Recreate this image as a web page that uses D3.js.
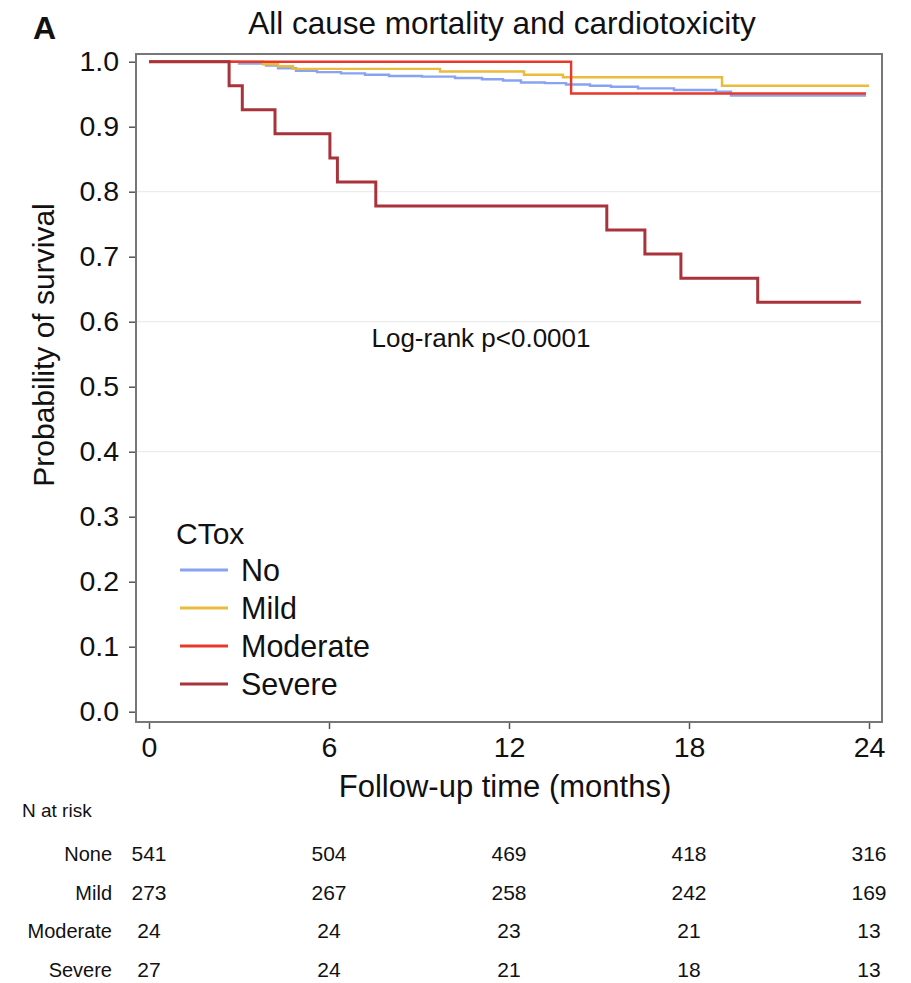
<!DOCTYPE html>
<html>
<head>
<meta charset="utf-8">
<script src="https://cdn.jsdelivr.net/npm/d3@7"></script>
<style>
  body { margin: 0; background: #fff; }
  svg text { font-family: "Liberation Sans", Arial, Helvetica, sans-serif; fill: #111; }
</style>
</head>
<body>
<svg id="chart" width="911" height="983"></svg>
<script>
"use strict";

// tick labels
var xTicks = [0, 6, 12, 18, 24];
var yTicks = [0, 0.1, 0.2, 0.3, 0.4, 0.5, 0.6, 0.7, 0.8, 0.9, 1.0];
var gridTicks = [0.4, 0.6, 0.8];

// groups (legend) and risk table rows
var groups = ["No", "Mild", "Moderate", "Severe"];
var groupColors = ["#88a3f2", "#ebbb3e", "#e8382c", "#a8333a"];
var riskLabels = ["None", "Mild", "Moderate", "Severe"];

// KM curves: step times (months) and survival
var noTime = [0, 3.0, 3.9, 4.3, 4.9, 5.6, 6.4, 7.2, 8.0, 9.1, 10.2, 11.1, 11.8, 12.4, 13.2, 13.9, 14.7, 15.4, 16.3, 17.5, 18.9, 19.4, 23.9];
var noSurv = [1.0, 0.997, 0.994, 0.990, 0.986, 0.984, 0.982, 0.980, 0.978, 0.977, 0.975, 0.973, 0.971, 0.968, 0.967, 0.965, 0.963, 0.9615, 0.959, 0.9565, 0.954, 0.948, 0.948];

var mildTime = [0, 3.8, 4.3, 4.8, 9.7, 12.5, 13.8, 19.1, 24.0];
var mildSurv = [1.0, 0.996, 0.993, 0.989, 0.985, 0.980, 0.976, 0.963, 0.963];

var modTime = [0, 14.07, 23.9];
var modSurv = [1.0, 0.951, 0.951];

var sevTime = [0, 2.67, 3.11, 4.2, 6.03, 6.28, 7.56, 15.26, 16.53, 17.73, 20.29, 23.73];
var sevSurv = [1.0, 0.963, 0.926, 0.889, 0.852, 0.815, 0.778, 0.741, 0.704, 0.667, 0.630, 0.630];

// number at risk
var riskNone = [541, 504, 469, 418, 316];
var riskMild = [273, 267, 258, 242, 169];
var riskMod = [24, 24, 23, 21, 13];
var riskSev = [27, 24, 21, 18, 13];

var curves = [
  { time: noTime, surv: noSurv },
  { time: mildTime, surv: mildSurv },
  { time: modTime, surv: modSurv },
  { time: sevTime, surv: sevSurv }
];
var riskRows = [riskNone, riskMild, riskMod, riskSev];

var svg = d3.select("#chart");

// plot frame
var frame = { left: 136, right: 882, top: 54, bottom: 722 };

var x = d3.scaleLinear().domain([0, 24]).range([149, 869]);
var y = d3.scaleLinear().domain([0, 1]).range([711.7, 61.7]);

// panel letter and title
svg.append("text")
  .attr("x", 33).attr("y", 39)
  .style("font-size", "32px").style("font-weight", "bold")
  .text("A");

svg.append("text")
  .attr("x", 502).attr("y", 34)
  .attr("text-anchor", "middle")
  .style("font-size", "31.5px")
  .text("All cause mortality and cardiotoxicity");

// grid lines
svg.append("g")
  .selectAll("line")
  .data(gridTicks)
  .join("line")
  .attr("x1", frame.left).attr("x2", frame.right)
  .attr("y1", function(d) { return y(d); })
  .attr("y2", function(d) { return y(d); })
  .attr("stroke", "#ececec")
  .attr("stroke-width", 1.2);

// y axis
var yAxis = svg.append("g")
  .attr("transform", "translate(" + frame.left + ",0)")
  .call(d3.axisLeft(y).tickValues(yTicks).tickFormat(d3.format(".1f")).tickSize(7).tickPadding(10));
yAxis.select(".domain").remove();
yAxis.selectAll("line").attr("stroke", "#555").attr("stroke-width", 1.5);
yAxis.selectAll("text").style("font-size", "28.5px").attr("fill", "#111");

// x axis
var xAxis = svg.append("g")
  .attr("transform", "translate(0," + frame.bottom + ")")
  .call(d3.axisBottom(x).tickValues(xTicks).tickSize(7).tickPadding(8));
xAxis.select(".domain").remove();
xAxis.selectAll("line").attr("stroke", "#555").attr("stroke-width", 1.5);
xAxis.selectAll("text").style("font-size", "28.5px").attr("fill", "#111");

// frame box
svg.append("rect")
  .attr("x", frame.left).attr("y", frame.top)
  .attr("width", frame.right - frame.left)
  .attr("height", frame.bottom - frame.top)
  .attr("fill", "none")
  .attr("stroke", "#777")
  .attr("stroke-width", 2);

// axis titles
svg.append("text")
  .attr("x", 505).attr("y", 797)
  .attr("text-anchor", "middle")
  .style("font-size", "31px")
  .text("Follow-up time (months)");

svg.append("text")
  .attr("transform", "translate(54,345) rotate(-90)")
  .attr("text-anchor", "middle")
  .style("font-size", "30px")
  .text("Probability of survival");

// curves
var line = d3.line()
  .x(function(d) { return x(d[0]); })
  .y(function(d) { return y(d[1]); })
  .curve(d3.curveStepAfter);

svg.append("g")
  .selectAll("path")
  .data(curves)
  .join("path")
  .attr("d", function(c) { return line(d3.zip(c.time, c.surv)); })
  .attr("fill", "none")
  .attr("stroke", function(c, i) { return groupColors[i]; })
  .attr("stroke-width", function(c, i) { return i == 3 ? 3 : 2.4; });

// log-rank annotation
svg.append("text")
  .attr("x", 481).attr("y", 347)
  .attr("text-anchor", "middle")
  .style("font-size", "26px")
  .text("Log-rank p<0.0001");

// legend
var legend = svg.append("g").attr("transform", "translate(176,0)");
legend.append("text")
  .attr("x", 0).attr("y", 544)
  .style("font-size", "30px")
  .text("CTox");

var item = legend.selectAll("g.item")
  .data(groups)
  .join("g")
  .attr("class", "item")
  .attr("transform", function(d, i) { return "translate(0," + (570 + i * 38) + ")"; });
item.append("line")
  .attr("x1", 4).attr("x2", 52)
  .attr("stroke", function(d, i) { return groupColors[i]; })
  .attr("stroke-width", 3);
item.append("text")
  .attr("x", 65).attr("y", 11)
  .style("font-size", "30.5px")
  .text(function(d) { return d; });

// number at risk table
svg.append("text")
  .attr("x", 22).attr("y", 817)
  .style("font-size", "19px")
  .text("N at risk");

var rows = svg.append("g")
  .selectAll("g")
  .data(riskRows)
  .join("g")
  .attr("transform", function(d, i) { return "translate(0," + (861 + i * 38.5) + ")"; });

rows.append("text")
  .attr("x", 112)
  .attr("text-anchor", "end")
  .style("font-size", "20px")
  .text(function(d, i) { return riskLabels[i]; });

rows.selectAll("text.n")
  .data(function(d) { return d; })
  .join("text")
  .attr("class", "n")
  .attr("x", function(d, i) { return x(xTicks[i]); })
  .attr("text-anchor", "middle")
  .style("font-size", "21px")
  .text(function(d) { return d; });
</script>
</body>
</html>
